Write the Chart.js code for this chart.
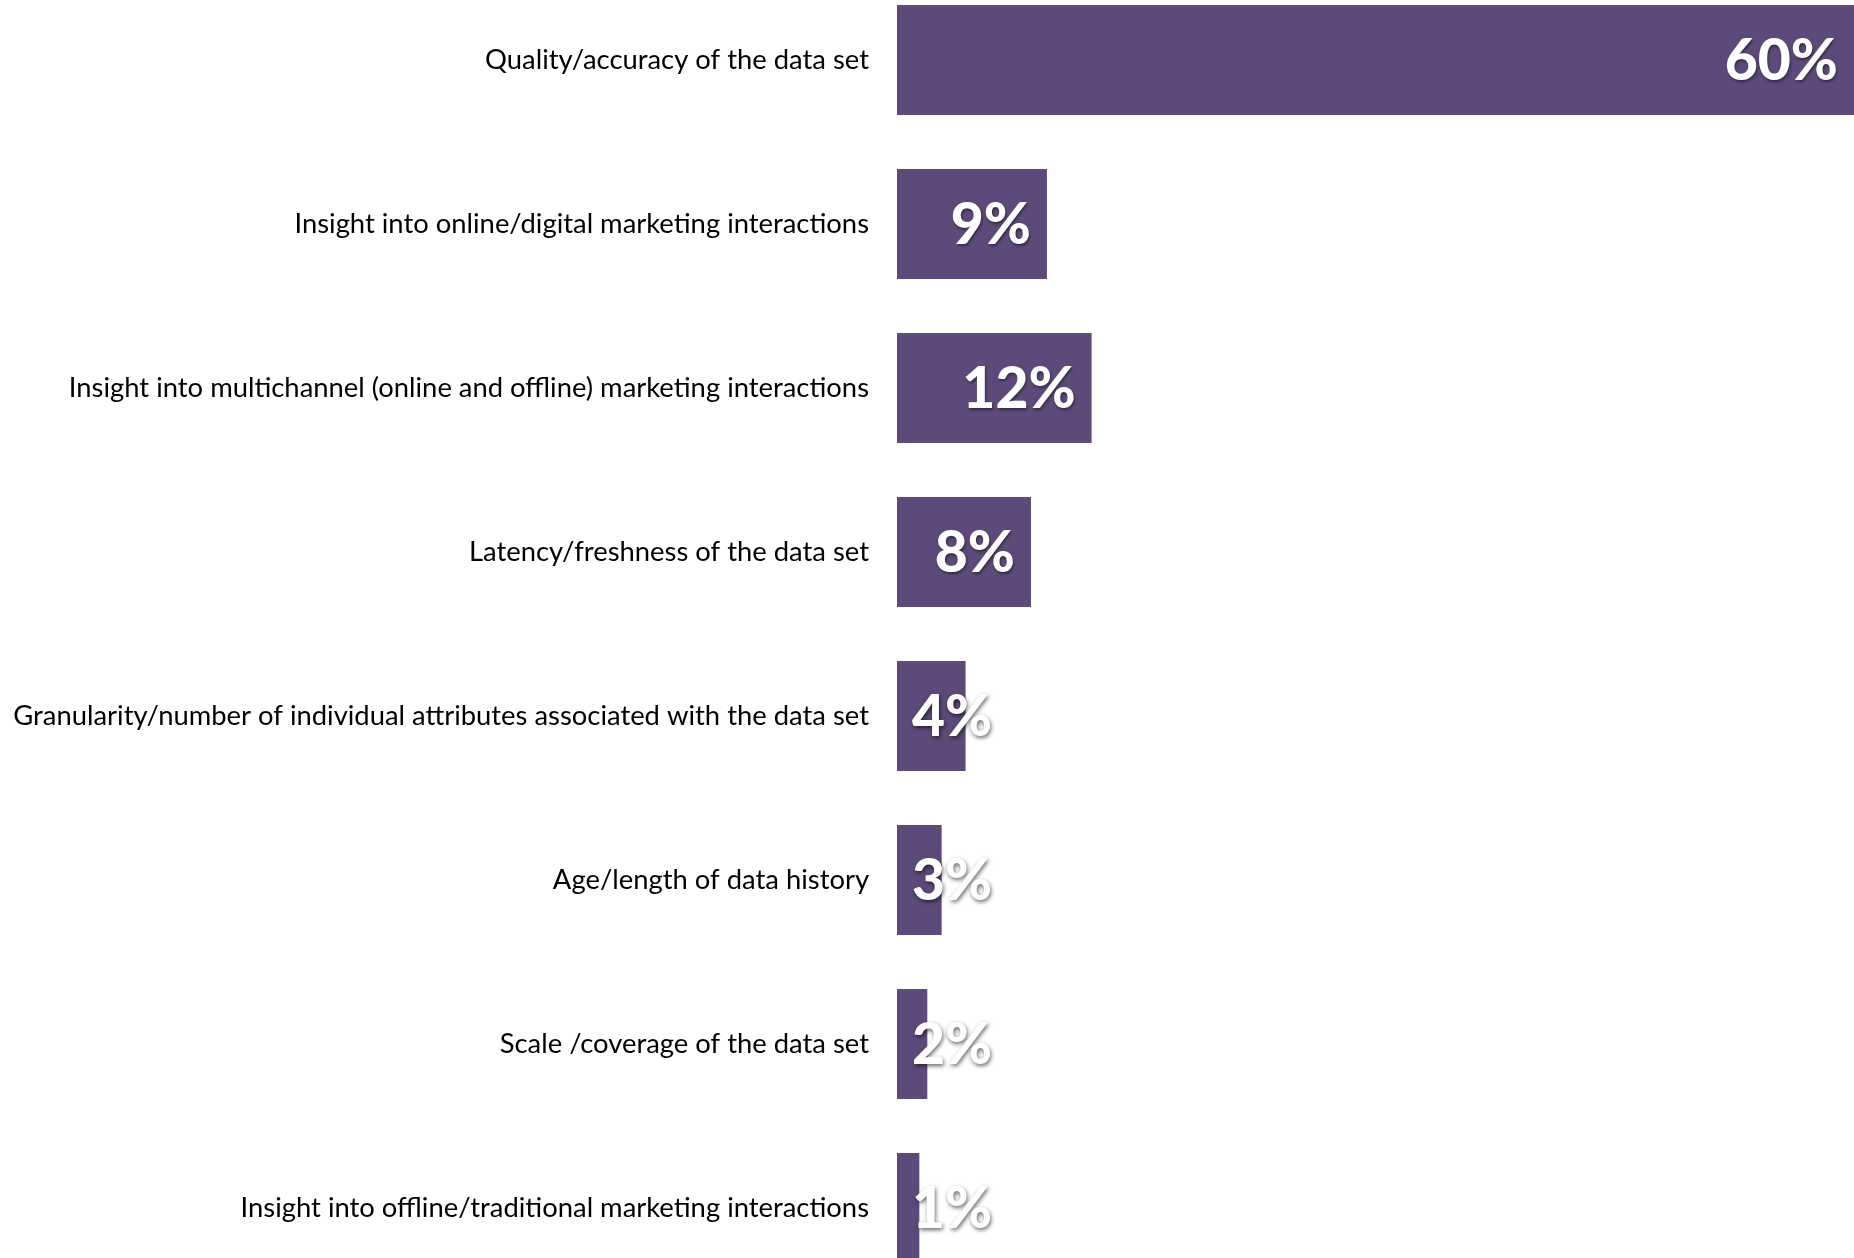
<!DOCTYPE html>
<html>
<head>
<meta charset="utf-8">
<title>Data set attributes</title>
<script src="https://cdn.jsdelivr.net/npm/chart.js@4.4.1/dist/chart.umd.min.js"></script>
<style>
    html, body { margin: 0; padding: 0; background: #fff; overflow: hidden; }
    body { width: 1854px; height: 1258px; position: relative; }
    #chart { position: absolute; left: 0; top: -22px; }
</style>
</head>
<body>
<canvas id="chart" width="1854" height="1312"></canvas>
<script>
// Categories, top to bottom
const categories = [
    'Quality/accuracy of the data set',
    'Insight into online/digital marketing interactions',
    'Insight into multichannel (online and offline) marketing interactions',
    'Latency/freshness of the data set',
    'Granularity/number of individual attributes associated with the data set',
    'Age/length of data history',
    'Scale /coverage of the data set',
    'Insight into offline/traditional marketing interactions'
];

// Share of respondents (%), bar lengths
const shares = [60, 9.4, 12.2, 8.4, 4.3, 2.8, 1.9, 1.4];

const barColor = '#5e4a7a';

// Data labels drawn "inside end", pushed right for short bars
const valueLabels = {
    id: 'valueLabels',
    afterDatasetsDraw(chart) {
        const ctx = chart.ctx;
        const meta = chart.getDatasetMeta(0);
        ctx.save();
        ctx.font = '900 57px Lato';
        ctx.textBaseline = 'middle';
        ctx.textAlign = 'left';
        meta.data.forEach((bar, i) => {
            const txt = Math.round(shares[i]) + '%';
            const w = ctx.measureText(txt).width;
            let x = bar.x - 16 - w;
            if (x < bar.base + 15) x = bar.base + 15;
            const outside = x + w > bar.x;
            ctx.shadowColor = outside ? 'rgba(0,0,0,0.6)' : 'rgba(0,0,0,0.45)';
            ctx.shadowBlur = outside ? 4 : 3;
            ctx.shadowOffsetX = 1;
            ctx.shadowOffsetY = 2;
            ctx.fillStyle = '#ffffff';
            ctx.fillText(txt, x, bar.y + 2);
        });
        ctx.restore();
    }
};

window.onload = () => {
    const ctx = document.getElementById('chart').getContext('2d');
    new Chart(ctx, {
        type: 'bar',
        data: {
            labels: categories,
            datasets: [{
                data: shares,
                backgroundColor: barColor,
                borderWidth: 0,
                barPercentage: 0.67,
                categoryPercentage: 1.0
            }]
        },
        options: {
            indexAxis: 'y',
            responsive: false,
            devicePixelRatio: 1,
            animation: false,
            layout: { padding: 0 },
            plugins: {
                legend: { display: false },
                tooltip: { enabled: false }
            },
            scales: {
                x: { display: false, min: 0, max: 60 },
                y: {
                    grid: { display: false, drawTicks: false },
                    border: { display: false },
                    ticks: {
                        color: '#000',
                        padding: 28,
                        font: { family: 'Lato', size: 27.4 }
                    },
                    afterFit: (scale) => {
                        // fixed label column, no extra top/bottom padding
                        scale.width = 897;
                        scale.paddingTop = 0;
                        scale.paddingBottom = 0;
                    }
                }
            }
        },
        plugins: [valueLabels]
    });
};
</script>
</body>
</html>
